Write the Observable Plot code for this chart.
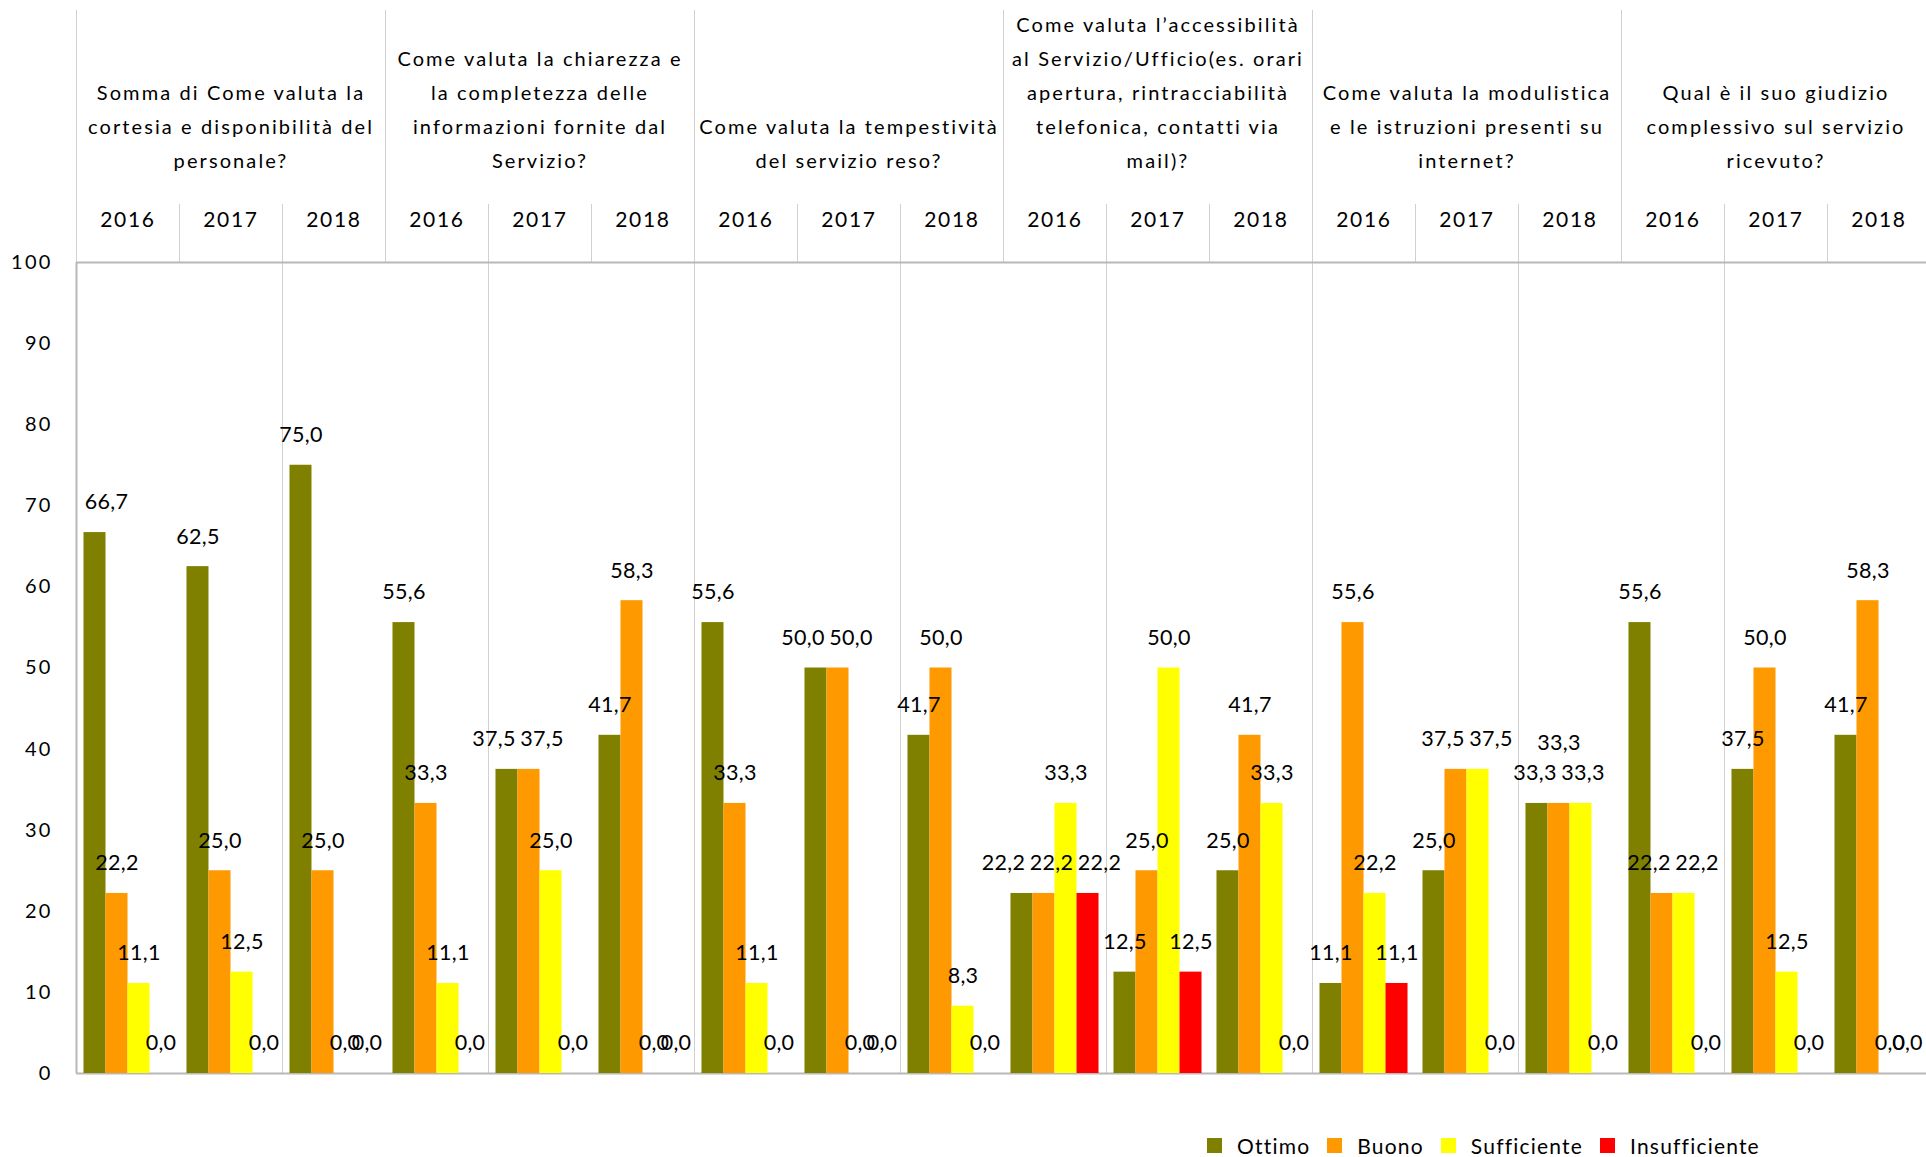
<!DOCTYPE html>
<html><head><meta charset="utf-8">
<script src="https://cdn.jsdelivr.net/npm/d3@7"></script>
<script src="https://cdn.jsdelivr.net/npm/@observablehq/plot@0.6"></script>
<style>
body{margin:0;background:#fff;font-family:Lato, sans-serif;}
#chart svg{letter-spacing:2.2px}
#chart svg g[font-size="20"] text{letter-spacing:2.1px}
#chart svg g[font-size="21"] text{letter-spacing:1.7px}
#chart svg g[font-size="21.5"] text{letter-spacing:0.3px}
#legend{position:absolute;top:1134px;left:1207px;display:flex;align-items:center;font-size:21px;height:22px;letter-spacing:1.2px;color:#000}
.item{display:flex;align-items:center;margin-right:17px}
.sw{display:inline-block;width:15px;height:15px;margin-right:15px}
</style></head><body>
<div id="chart"></div><div id="legend"></div>
<script>
const questions = [
  "Somma di Come valuta la\ncortesia e disponibilità del\npersonale?",
  "Come valuta la chiarezza e\nla completezza delle\ninformazioni fornite dal\nServizio?",
  "Come valuta la tempestività\ndel servizio reso?",
  "Come valuta l’accessibilità\nal Servizio/Ufficio(es. orari\napertura, rintracciabilità\ntelefonica, contatti via\nmail)?",
  "Come valuta la modulistica\ne le istruzioni presenti su\ninternet?",
  "Qual è il suo giudizio\ncomplessivo sul servizio\nricevuto?"
];
const years = ["2016", "2017", "2018"];
const series = ["Ottimo", "Buono", "Sufficiente", "Insufficiente"];
const colors = ["#808000", "#ff9900", "#ffff00", "#ff0000"];
const ottimo        = [66.7, 62.5, 75.0, 55.6, 37.5, 41.7, 55.6, 50.0, 41.7, 22.2, 12.5, 25.0, 11.1, 25.0, 33.3, 55.6, 37.5, 41.7];
const buono         = [22.2, 25.0, 25.0, 33.3, 37.5, 58.3, 33.3, 50.0, 50.0, 22.2, 25.0, 41.7, 55.6, 37.5, 33.3, 22.2, 50.0, 58.3];
const sufficiente   = [11.1, 12.5, 0.0, 11.1, 25.0, 0.0, 11.1, 0.0, 8.3, 33.3, 50.0, 33.3, 22.2, 37.5, 33.3, 22.2, 12.5, 0.0];
const insufficiente = [0.0, 0.0, 0.0, 0.0, 0.0, 0.0, 0.0, 0.0, 0.0, 22.2, 12.5, 0.0, 11.1, 0.0, 0.0, 0.0, 0.0, 0.0];
const yTicks = [0, 10, 20, 30, 40, 50, 60, 70, 80, 90, 100];

const W = 1926, H = 1110, mL = 76, mR = -4, mT = 262, mB = 37;
const padOuter = 0.34;
const values = [ottimo, buono, sufficiente, insufficiente];
const keys = [];
questions.forEach((q, qi) => years.forEach(y => keys.push(qi + "|" + y)));
const rows = [];
keys.forEach((k, gi) => series.forEach((s, si) => rows.push({key: k, gi, si, series: s, value: values[si][gi], dx: 0, dy: 0})));
const yearRows = keys.map(k => ({key: k, year: k.split("|")[1]}));
const titleRows = questions.map((q, qi) => ({key: qi + "|" + years[1], title: q}));

const facetW = (W - mL - mR) / keys.length;
const innerStep = facetW / (series.length + 2 * padOuter);
const edge = innerStep * (padOuter + 0.5);
const plotH = H - mT - mB;
const yearSeps = keys.filter((k, i) => i % 3 !== 0);
const qSeps = keys.filter((k, i) => i % 3 === 0);
const grid = keys.filter((k, i) => i > 0 && i % 2 === 0);
const fmt = v => v.toFixed(1).replace(".", ",");

// label collision avoidance (like the spreadsheet's automatic label placement)
const sep = 48, pxPerUnit = plotH / 100;
const widthOf = r => r.value > 0 ? 46 : 36;
const baseX = r => mL + r.gi * facetW + innerStep * (padOuter + r.si + 0.5);
keys.forEach((k, gi) => {
  const items = rows.filter(r => r.gi === gi && r.value > 0);
  const fixed = new Set();
  for (let i = 0; i + 2 < items.length; i++) {
    const [a, b, c] = [items[i], items[i + 1], items[i + 2]];
    if (b.si === a.si + 1 && c.si === b.si + 1 && a.value === b.value && b.value === c.value) {
      b.dy = -30; fixed.add(b);
    }
  }
  const act = items.filter(r => !fixed.has(r));
  for (let iter = 0; iter < 60; iter++) {
    for (let i = 0; i < act.length; i++) for (let j = i + 1; j < act.length; j++) {
      const a = act[i], b = act[j];
      if (Math.abs(a.value - b.value) * pxPerUnit >= 22) continue;
      const o = sep - ((baseX(b) + b.dx) - (baseX(a) + a.dx));
      if (o > 0.01) { a.dx -= o / 2; b.dx += o / 2; }
    }
  }
});
rows.forEach(r => {
  const w = widthOf(r);
  const x = baseX(r) + r.dx;
  if (x - w / 2 < mL + 7) r.dx = mL + 7 + w / 2 - baseX(r);
  if (x + w / 2 > W - 1) r.dx = W - 1 - w / 2 - baseX(r);
  r.dx = Math.round(r.dx * 2) / 2;
});
const offsetGroups = d3.groups(rows, r => r.dx + "|" + r.dy);
const labelMarks = offsetGroups.map(([k, g]) =>
  Plot.text(g, {fx: "key", x: "series", y: "value", text: d => fmt(d.value), dx: g[0].dx, dy: -30 + g[0].dy, fontSize: 21.5, fill: "#000"}));

const edgeRule = (data, opts) => Plot.ruleX(data, {fx: d => d, x: () => series[0], dx: -edge, ...opts});

const chart = Plot.plot({
  width: W, height: H,
  marginLeft: mL, marginRight: mR, marginTop: mT, marginBottom: mB,
  style: {fontFamily: "Lato, sans-serif", fontSize: "20px", color: "#000", background: "#fff"},
  fx: {domain: keys, padding: 0, axis: null, round: false},
  x: {domain: series, paddingInner: 0, paddingOuter: padOuter, axis: null, round: false},
  y: {domain: [0, 100], ticks: yTicks, tickSize: 0, tickPadding: 24, label: null},
  color: {domain: series, range: colors},
  marks: [
    edgeRule(grid, {stroke: "#d0d0d0", strokeWidth: 1}),
    edgeRule(yearSeps, {stroke: "#d0d0d0", strokeWidth: 1, insetTop: -58, insetBottom: plotH}),
    edgeRule(qSeps, {stroke: "#d0d0d0", strokeWidth: 1, insetTop: -252, insetBottom: plotH}),
    Plot.ruleY([0, 100], {stroke: "#b8b8b8", strokeWidth: 2}),
    edgeRule([keys[0]], {stroke: "#b8b8b8", strokeWidth: 2}),
    Plot.barY(rows, {fx: "key", x: "series", y: "value", fill: "series"}),
    ...labelMarks,
    Plot.text(yearRows, {fx: "key", text: "year", frameAnchor: "top", dy: -50, fontSize: 21, fill: "#000"}),
    Plot.text(titleRows, {fx: "key", text: "title", frameAnchor: "top", lineAnchor: "bottom", dy: -95, fontSize: 20, lineHeight: 1.69, fill: "#000"})
  ]
});
document.getElementById("chart").appendChild(chart);

const legend = document.getElementById("legend");
series.forEach((s, i) => {
  const it = document.createElement("div");
  it.className = "item";
  const sw = document.createElement("span");
  sw.className = "sw";
  sw.style.background = colors[i];
  const t = document.createElement("span");
  t.textContent = s;
  it.appendChild(sw); it.appendChild(t);
  legend.appendChild(it);
});
</script></body></html>
